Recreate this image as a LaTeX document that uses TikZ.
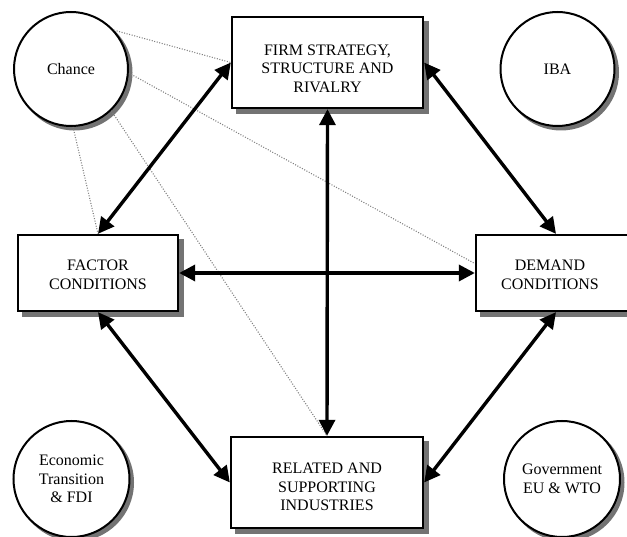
\documentclass[tikz,border=0pt]{standalone}
\usepackage{fontspec}
\setmainfont{Liberation Serif}
\usetikzlibrary{arrows.meta,calc}
\begin{document}
\begin{tikzpicture}[x=1pt,y=-1pt,
  boxnode/.style={draw=black,line width=2.3pt,fill=white,rectangle,inner sep=0pt},
  boxshadow/.style={draw=none,fill=black!55,rectangle,inner sep=0pt},
  circnode/.style={draw=black,line width=2pt,fill=white,circle,inner sep=0pt,minimum size=114pt,align=center,font=\fontsize{16}{18.5}\selectfont},
  circshadow/.style={draw=none,fill=black!55,circle,inner sep=0pt,minimum size=116pt},
  lbl/.style={align=center,inner sep=0pt,font=\fontsize{16}{18.5}\selectfont},
  biarrow/.style={line width=3.4pt,{Triangle[length=16pt,width=16pt]}-{Triangle[length=16pt,width=16pt]}},
  dots/.style={draw=black!50,line width=1.1pt,dash pattern=on 1pt off 1.6pt}
]
\useasboundingbox (0,0) rectangle (627,537);
% shadows (drawn first, offset down-right)
\node[boxshadow,minimum width=193pt,minimum height=93pt] (firmsh) at (332.5,67.5) {};
\node[boxshadow,minimum width=162pt,minimum height=78pt] (factorsh) at (103,278) {};
\node[boxshadow,minimum width=162pt,minimum height=78pt] (demandsh) at (561,278) {};
\node[boxshadow,minimum width=194pt,minimum height=93pt] (relatedsh) at (332,487.5) {};
\node[circshadow] (chancesh) at (74.5,72.5) {};
\node[circshadow] (ibash) at (561,72.5) {};
\node[circshadow,minimum size=118pt] (econsh) at (75,482.5) {};
\node[circshadow,minimum size=118pt] (govsh) at (565.5,482.5) {};
% boxes
\node[boxnode,minimum width=191pt,minimum height=91pt] (firm) at (327.5,62.5) {};
\node[boxnode,minimum width=160pt,minimum height=76pt] (factor) at (98,273) {};
\node[boxnode,minimum width=160pt,minimum height=76pt] (demand) at (556,273) {};
\node[boxnode,minimum width=192pt,minimum height=91pt] (related) at (327,482.5) {};
% box texts
\node[lbl] (firmtxt) at (327.5,68.5) {FIRM STRATEGY,\\STRUCTURE AND\\RIVALRY};
\node[lbl] (factortxt) at (98,275) {FACTOR\\CONDITIONS};
\node[lbl] (demandtxt) at (550,275) {DEMAND\\CONDITIONS};
\node[lbl] (relatedtxt) at (327,487) {RELATED AND\\SUPPORTING\\INDUSTRIES};
% circles
\node[circnode] (chance) at (71,69) {Chance};
\node[circnode] (iba) at (557.5,69) {IBA};
\node[circnode,minimum size=116pt] (econ) at (71.5,479) {Economic\\Transition\\\& FDI};
\node[circnode,minimum size=116pt] (gov) at (562,479) {Government\\EU \& WTO};
% dotted influence lines from Chance
\coordinate (dtarget) at ($(demand.north west)!0.38!(demand.south west)$);
\draw[dots] (chance.42) -- (firm.west);
\draw[dots] (chance.-4) -- (dtarget);
\draw[dots] (chance.-88) -- (factor.north);
\draw[dots] (chance.-46) -- (related.north);
% diamond arrows
\draw[biarrow] (firm.west) -- (factor.north);
\draw[biarrow] (firm.east) -- (demand.north);
\draw[biarrow] (firm.south) -- (related.north);
\draw[biarrow] (factor.east) -- (demand.west);
\draw[biarrow] (factor.south) -- (related.west);
\draw[biarrow] (demand.south) -- (related.east);
\end{tikzpicture}
\end{document}
